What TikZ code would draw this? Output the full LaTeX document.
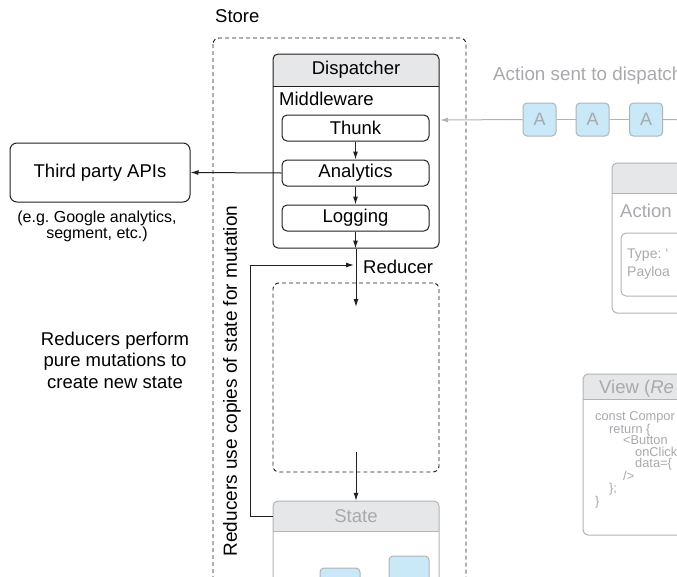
\documentclass[tikz,border=0pt]{standalone}
\usepackage{fontspec}
\setmainfont{Liberation Sans}
\usetikzlibrary{arrows.meta}
\frenchspacing
\definecolor{hdr}{HTML}{E6E7E8}
\definecolor{gtxt}{HTML}{A7A9AC}
\definecolor{gline}{HTML}{B1B3B6}
\definecolor{lblue}{HTML}{C9E8F8}
\definecolor{ink}{HTML}{231F20}
\tikzset{
  big/.style={font=\fontsize{18.5}{21}\selectfont},
  mid/.style={font=\fontsize{16}{16}\selectfont},
  small/.style={font=\fontsize{14}{16}\selectfont},
  code/.style={font=\fontsize{12.8}{11.6}\selectfont, text=gtxt, anchor=north west, inner sep=0, align=left},
  blackbox/.style={draw=ink, line width=1pt, rounded corners=5pt, inner sep=0},
  graybox/.style={draw=gline, line width=1pt, rounded corners=5pt},
  arr/.style={draw=ink, line width=1pt, -{Latex[length=8pt,width=5pt]}},
  garr/.style={draw=gline, line width=1pt, -{Latex[length=8pt,width=5pt]}},
  gplain/.style={draw=gline, line width=1pt},
  abox/.style={draw=gline, fill=lblue, line width=1pt, rounded corners=4pt, minimum width=33pt, minimum height=33pt, inner sep=0, text=gtxt, font=\fontsize{18}{18}\selectfont},
  dashbox/.style={draw=ink, line width=0.9pt, dash pattern=on 4pt off 3pt, rounded corners=6pt},
}
\begin{document}
\begin{tikzpicture}[x=1pt,y=-1pt]
\useasboundingbox (0,0) rectangle (677,576);
\clip (0,0) rectangle (677,576);

% Store
\node[big, anchor=west, inner sep=0] (storelbl) at (215,16) {Store};
\draw[dashbox] (213,38) rectangle (466,640);

% Dispatcher
\begin{scope}
\clip (273,54) rectangle (439,86);
\fill[hdr, rounded corners=5pt] (273,54) rectangle (439,248);
\end{scope}
\node[blackbox, minimum width=166pt, minimum height=194pt] (disp) at (356,151) {};
\draw[ink, line width=1pt] (273,86) -- (439,86);
\node[big] (disptitle) at (356,70) {Dispatcher};
\node[big, anchor=west, inner sep=0] (mw) at (279,99) {Middleware};
\node[blackbox, minimum width=147pt, minimum height=26pt, big] (thunk) at (355.5,128) {Thunk};
\node[blackbox, minimum width=147pt, minimum height=26pt, big] (analytics) at (355.5,173) {Analytics};
\node[blackbox, minimum width=147pt, minimum height=26pt, big] (logging) at (355.5,218) {Logging};
\draw[arr] (thunk.south) -- (analytics.north);
\draw[arr] (analytics.south) -- (logging.north);
\draw[arr] (logging.south) -- (logging.south |- disp.south);

% Third party
\node[blackbox, rounded corners=7pt, minimum width=180pt, minimum height=59pt, big] (tp) at (100,172.5) {Third party APIs};
\draw[arr] (analytics.west) -- (tp.east);
\node[align=center, font=\fontsize{16}{16}\selectfont] (tpnote) at (97,226) {(e.g. Google analytics,\\segment, etc.)};

% Reducer
\node[dashbox, minimum width=166pt, minimum height=189pt] (red) at (356,377.5) {};
\coordinate (redin) at (356,307);
\draw[arr] (disp.south) -- (redin);
\node[big, anchor=west, inner sep=0] (redlbl) at (363,267) {Reducer};
\coordinate (redout) at (356,452);

% State
\begin{scope}
\clip (273,501) rectangle (439,531);
\fill[hdr, rounded corners=5pt] (273,501) rectangle (439,640);
\end{scope}
\draw[graybox] (273,501) rectangle (439,640);
\draw[gline, line width=1pt] (273,531) -- (439,531);
\node[big, text=gtxt, minimum width=166pt, minimum height=30pt, inner sep=0] (stateh) at (356,516) {State};
\draw[arr] (redout) -- (stateh.north);
\node[draw=gline, fill=lblue, line width=1pt, rounded corners=4pt, minimum width=40pt, minimum height=44pt] (s1) at (340,590) {};
\node[draw=gline, fill=lblue, line width=1pt, rounded corners=4pt, minimum width=40pt, minimum height=44pt] (s2) at (409,578) {};

% feedback
\coordinate (fbend) at (354,265);
\draw[arr] (stateh.west) -- (250,516) -- (250,265) -- (fbend);

% side texts
\node[align=center, font=\fontsize{18.5}{21.5}\selectfont] (redtxt) at (115,360) {Reducers perform\\pure mutations to\\create new state};
\node[font=\fontsize{19}{21}\selectfont, rotate=90] (vtxt) at (232,381) {Reducers use copies of state for mutation};

% Action queue
\node[font=\fontsize{18.8}{21}\selectfont, text=gtxt, anchor=west, inner sep=0] (qlbl) at (493,76) {Action sent to dispatch};
\node[abox] (A1) at (539.5,119.5) {A};
\node[abox] (A2) at (592.5,119.5) {A};
\node[abox] (A3) at (646,119.5) {A};
\coordinate (qend) at (690,120);
\coordinate (dispin) at (440,120);
\draw[gplain] (A1.east) -- (A2.west);
\draw[gplain] (A2.east) -- (A3.west);
\draw[gplain] (A3.east) -- (qend);
\draw[garr] (A1.west) -- (dispin);

% Action object
\begin{scope}
\clip (612,163) rectangle (700,193);
\fill[hdr, rounded corners=5pt] (612,163) rectangle (720,313);
\end{scope}
\draw[graybox] (612,163) rectangle (720,313);
\draw[gline, line width=1pt] (612,193) -- (720,193);
\node[big, text=gtxt, anchor=west, inner sep=0] (actlbl) at (620,211) {Action};
\draw[graybox] (621,233) rectangle (720,296);
\node[small, text=gtxt, anchor=west, inner sep=0] (typ) at (627,255) {Type: `};
\node[small, text=gtxt, anchor=west, inner sep=0] (pay) at (627,273) {Payloa};

% View
\begin{scope}
\clip (583,374) rectangle (700,399);
\fill[hdr, rounded corners=5pt] (583,374) rectangle (720,535);
\end{scope}
\draw[graybox] (583,374) rectangle (720,535);
\draw[gline, line width=1pt] (583,399) -- (720,399);
\node[big, text=gtxt, anchor=west, inner sep=0] (viewlbl) at (599,389) {View (\textit{Re}};
\node[code] (code) at (595,411) {const Compor\\
\hspace*{14pt}return \{\\
\hspace*{28pt}<Button\\
\hspace*{40pt}onClick\\
\hspace*{40pt}data=\{\\
\hspace*{28pt}/>\\
\hspace*{14pt}\};\\
\}};
\end{tikzpicture}
\end{document}
